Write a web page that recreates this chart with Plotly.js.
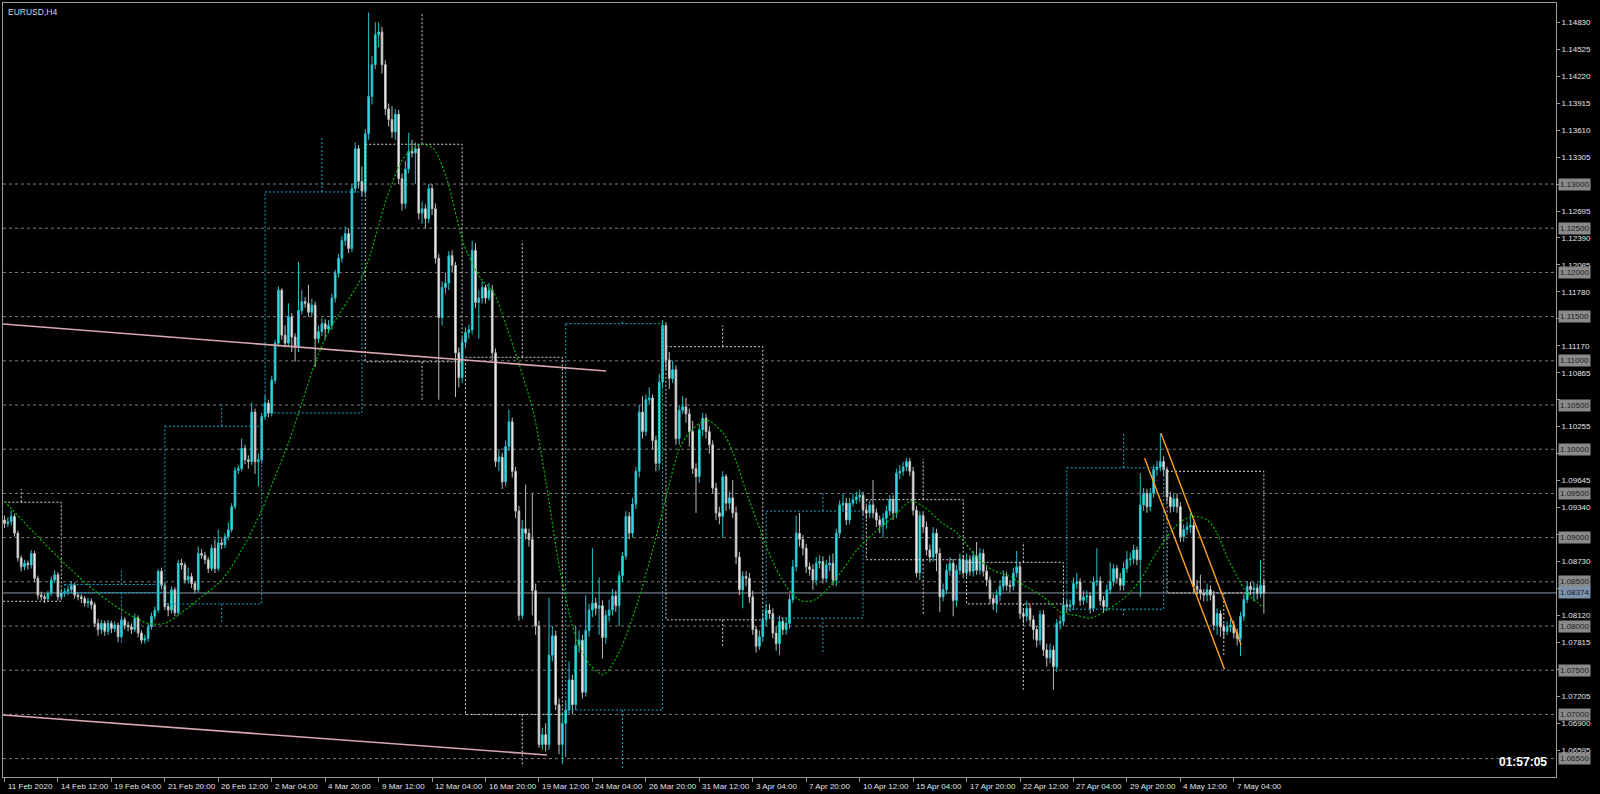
<!DOCTYPE html>
<html><head><meta charset="utf-8">
<script src="https://cdn.plot.ly/plotly-3.0.1.min.js"></script>
<style>html,body{margin:0;padding:0;background:#000;}#chart{width:1600px;height:794px;}</style>
</head><body><div id="chart"></div>
<script>
const symbolTitle = "EURUSD,H4";
const timerText = "01:57:05";
const firstOpen = 1.0920;
const currentPrice = 1.08374;

const closes = [
1.0916,1.0918,1.0924,1.0905,1.0877,1.0867,1.0871,1.0869,1.0882,1.0854,
1.0835,1.0833,1.0831,1.0837,1.0852,1.0858,1.0833,1.0837,1.0839,1.0841,
1.0846,1.0835,1.0833,1.0831,1.0826,1.0828,1.0824,1.0803,1.0796,1.0803,
1.0794,1.0803,1.0797,1.0801,1.0788,1.0807,1.0801,1.0799,1.0796,1.0809,
1.0792,1.0784,1.0786,1.0799,1.0811,1.0818,1.0862,1.0846,1.0822,1.0818,
1.0841,1.0815,1.0871,1.0869,1.0852,1.0856,1.0848,1.0841,1.0882,1.0880,
1.0875,1.0865,1.0888,1.0865,1.0894,1.0892,1.0901,1.0909,1.0935,1.0976,
1.0978,1.1001,1.0988,1.0986,1.1042,1.0986,1.0988,1.1037,1.1052,1.1041,
1.1078,1.1120,1.1180,1.1129,1.1120,1.1150,1.1127,1.1116,1.1157,1.1167,
1.1165,1.1155,1.1163,1.1125,1.1133,1.1142,1.1136,1.1140,1.1171,1.1199,
1.1216,1.1236,1.1244,1.1227,1.1295,1.1340,1.1303,1.1292,1.1357,1.1399,
1.1435,1.1469,1.1472,1.1435,1.1385,1.1373,1.1359,1.1379,1.1306,1.1278,
1.1317,1.1337,1.1335,1.1340,1.1267,1.1272,1.1261,1.1295,1.1272,1.1216,
1.1149,1.1183,1.1188,1.1219,1.1208,1.1109,1.1081,1.1121,1.1132,1.1135,
1.1225,1.1166,1.1171,1.1183,1.1171,1.1180,1.1109,1.0986,1.0991,1.0963,
1.1003,1.1031,1.0975,1.0930,1.0812,1.0910,1.0905,1.0898,1.0840,1.0800,
1.0666,1.0677,1.0666,1.0767,1.0789,1.0711,1.0666,1.0690,1.0705,1.0739,
1.0711,1.0778,1.0784,1.0725,1.0795,1.0818,1.0826,1.0820,1.0823,1.0787,
1.0812,1.0818,1.0834,1.0823,1.0857,1.0879,1.0924,1.0905,1.0938,1.0975,
1.1042,1.1020,1.1056,1.1058,1.1010,1.0984,1.1076,1.1140,1.1101,1.1080,
1.1090,1.1012,1.1044,1.1048,1.1040,1.1020,1.0978,1.0969,1.1022,1.1035,
1.1020,1.1005,1.0956,1.0928,1.0924,1.0969,1.0939,1.0945,1.0928,1.0878,
1.0841,1.0856,1.0854,1.0833,1.0796,1.0777,1.0788,1.0807,1.0818,1.0814,
1.0792,1.0780,1.0805,1.0796,1.0803,1.0830,1.0867,1.0905,1.0898,1.0888,
1.0867,1.0864,1.0852,1.0871,1.0873,1.0854,1.0869,1.0871,1.0852,1.0905,
1.0937,1.0939,1.0920,1.0939,1.0943,1.0946,1.0948,1.0931,1.0928,1.0937,
1.0928,1.0920,1.0914,1.0922,1.0930,1.0943,1.0928,1.0973,1.0975,1.0980,
1.0986,1.0975,1.0931,1.0860,1.0925,1.0912,1.0886,1.0878,1.0905,1.0882,
1.0833,1.0841,1.0863,1.0871,1.0829,1.0863,1.0875,1.0860,1.0875,1.0862,
1.0879,1.0863,1.0882,1.0862,1.0852,1.0831,1.0826,1.0835,1.0845,1.0856,
1.0846,1.0845,1.0860,1.0867,1.0814,1.0811,1.0820,1.0807,1.0796,1.0784,
1.0813,1.0773,1.0764,1.0773,1.0754,1.0803,1.0805,1.0824,1.0822,1.0824,
1.0848,1.0850,1.0829,1.0833,1.0834,1.0820,1.0850,1.0851,1.0829,1.0822,
1.0841,1.0850,1.0865,1.0854,1.0846,1.0865,1.0875,1.0876,1.0886,1.0875,
1.0937,1.0950,1.0935,1.0950,1.0977,1.0980,1.0986,1.0977,1.0946,1.0935,
1.0944,1.0935,1.0901,1.0909,1.0912,1.0914,1.0845,1.0841,1.0837,1.0835,
1.0841,1.0835,1.0801,1.0814,1.0799,1.0794,1.0799,1.0801,1.0792,1.0786,
1.0811,1.0830,1.0845,1.0841,1.0843,1.0837,1.0846,1.08374
];

const highs = [
1.0925,1.0923,1.0931,1.0927,1.0908,1.0880,1.0875,1.0874,1.0886,1.0885,
1.0857,1.0839,1.0836,1.0840,1.0856,1.0863,1.0861,1.0841,1.0843,1.0846,
1.0851,1.0849,1.0838,1.0836,1.0834,1.0832,1.0831,1.0827,1.0808,1.0807,
1.0806,1.0807,1.0806,1.0805,1.0804,1.0812,1.0810,1.0805,1.0803,1.0814,
1.0812,1.0795,1.0790,1.0803,1.0815,1.0822,1.0864,1.0866,1.0849,1.0826,
1.0845,1.0844,1.0875,1.0876,1.0872,1.0866,1.0860,1.0851,1.0890,1.0887,
1.0884,1.0878,1.0892,1.0898,1.0909,1.0899,1.0905,1.0917,1.0939,1.0980,
1.0982,1.1012,1.1005,1.0993,1.1053,1.1046,1.0995,1.1041,1.1061,1.1056,
1.1083,1.1124,1.1184,1.1182,1.1140,1.1165,1.1154,1.1131,1.1212,1.1180,
1.1172,1.1186,1.1170,1.1167,1.1140,1.1148,1.1147,1.1146,1.1176,1.1203,
1.1221,1.1241,1.1252,1.1250,1.1300,1.1347,1.1344,1.1320,1.1362,1.1494,
1.1445,1.1483,1.1483,1.1478,1.1440,1.1391,1.1388,1.1385,1.1384,1.1312,
1.1326,1.1358,1.1350,1.1347,1.1345,1.1280,1.1277,1.1300,1.1300,1.1278,
1.1221,1.1190,1.1200,1.1224,1.1225,1.1212,1.1115,1.1127,1.1138,1.1141,
1.1236,1.1233,1.1180,1.1190,1.1186,1.1188,1.1186,1.1114,1.1000,1.0996,
1.1010,1.1045,1.1036,1.0980,1.0936,1.0920,1.0960,1.0910,1.0950,1.0848,
1.0806,1.0685,1.0690,1.0832,1.0800,1.0795,1.0718,1.0700,1.0715,1.0760,
1.0745,1.0800,1.0795,1.0790,1.0835,1.0825,1.0888,1.0832,1.0855,1.0829,
1.0818,1.0830,1.0842,1.0840,1.0862,1.0884,1.0930,1.0929,1.0945,1.0980,
1.1050,1.1060,1.1062,1.1070,1.1062,1.1015,1.1085,1.1146,1.1144,1.1110,
1.1100,1.1095,1.1050,1.1060,1.1058,1.1046,1.1032,1.0984,1.1028,1.1041,
1.1040,1.1026,1.1010,1.0962,1.0935,1.0975,1.0972,1.0952,1.0965,1.0935,
1.0884,1.0862,1.0862,1.0860,1.0840,1.0800,1.0795,1.0815,1.0825,1.0825,
1.0820,1.0800,1.0812,1.0810,1.0810,1.0836,1.0875,1.0925,1.0928,1.0903,
1.0893,1.0872,1.0870,1.0878,1.0880,1.0879,1.0875,1.0880,1.0882,1.0910,
1.0942,1.0950,1.0945,1.0945,1.0950,1.0952,1.0954,1.0952,1.0936,1.0942,
1.0965,1.0933,1.0925,1.0928,1.0936,1.0948,1.0948,1.0978,1.0982,1.0986,
1.0990,1.0990,1.0980,1.0936,1.0930,1.0930,1.0918,1.0892,1.0912,1.0910,
1.0888,1.0848,1.0870,1.0878,1.0876,1.0869,1.0882,1.0880,1.0882,1.0880,
1.0885,1.0895,1.0888,1.0887,1.0868,1.0856,1.0836,1.0841,1.0852,1.0863,
1.0861,1.0852,1.0866,1.0885,1.0872,1.0820,1.0828,1.0825,1.0812,1.0800,
1.0818,1.0818,1.0780,1.0780,1.0778,1.0808,1.0812,1.0832,1.0830,1.0830,
1.0855,1.0860,1.0854,1.0840,1.0840,1.0838,1.0856,1.0888,1.0856,1.0834,
1.0847,1.0872,1.0870,1.0869,1.0860,1.0872,1.0885,1.0883,1.0892,1.0890,
1.0973,1.0956,1.0955,1.0956,1.0982,1.0987,1.1018,1.0992,1.0980,1.0952,
1.0950,1.0950,1.0940,1.0915,1.0918,1.0928,1.0918,1.0852,1.0858,1.0842,
1.0848,1.0846,1.0840,1.0820,1.0818,1.0803,1.0805,1.0808,1.0806,1.0797,
1.0816,1.0836,1.0851,1.0850,1.0850,1.0848,1.0875,1.0852
];

const lows = [
1.0911,1.0912,1.0914,1.0901,1.0873,1.0862,1.0863,1.0864,1.0865,1.0850,
1.0830,1.0829,1.0826,1.0828,1.0834,1.0849,1.0829,1.0830,1.0833,1.0835,
1.0837,1.0831,1.0829,1.0826,1.0822,1.0821,1.0819,1.0799,1.0789,1.0791,
1.0789,1.0790,1.0792,1.0793,1.0782,1.0785,1.0796,1.0794,1.0791,1.0793,
1.0787,1.0780,1.0780,1.0782,1.0796,1.0807,1.0815,1.0842,1.0818,1.0811,
1.0814,1.0811,1.0812,1.0864,1.0848,1.0848,1.0843,1.0837,1.0838,1.0876,
1.0870,1.0860,1.0862,1.0860,1.0862,1.0887,1.0888,1.0897,1.0906,1.0932,
1.0972,1.0975,1.0983,1.0978,1.0982,1.0972,1.0958,1.0984,1.1033,1.1036,
1.1037,1.1074,1.1116,1.1124,1.1115,1.1116,1.1110,1.1099,1.1110,1.1152,
1.1160,1.1150,1.1150,1.1093,1.1120,1.1128,1.1125,1.1131,1.1135,1.1166,
1.1194,1.1211,1.1230,1.1222,1.1223,1.1290,1.1295,1.1286,1.1288,1.1350,
1.1390,1.1430,1.1455,1.1425,1.1378,1.1365,1.1352,1.1350,1.1300,1.1270,
1.1272,1.1312,1.1330,1.1300,1.1260,1.1255,1.1250,1.1256,1.1265,1.1210,
1.1056,1.1140,1.1176,1.1180,1.1200,1.1059,1.1070,1.1075,1.1114,1.1125,
1.1130,1.1160,1.1125,1.1165,1.1165,1.1168,1.1100,1.0980,1.0975,1.0955,
1.0958,1.0998,1.0968,1.0922,1.0806,1.0808,1.0898,1.0890,1.0812,1.0790,
1.0662,1.0660,1.0658,1.0660,1.0760,1.0705,1.0655,1.0644,1.0652,1.0700,
1.0700,1.0705,1.0770,1.0718,1.0720,1.0788,1.0810,1.0812,1.0790,1.0763,
1.0780,1.0805,1.0812,1.0816,1.0800,1.0850,1.0875,1.0898,1.0900,1.0932,
1.0968,1.1012,1.1015,1.1050,1.1000,1.0975,1.0976,1.1070,1.1090,1.1068,
1.1075,1.1005,1.1005,1.1040,1.1030,1.1003,1.0972,1.0928,1.0962,1.1015,
1.1012,1.0995,1.0950,1.0920,1.0915,1.0900,1.0930,1.0932,1.0922,1.0870,
1.0835,1.0820,1.0845,1.0826,1.0790,1.0770,1.0773,1.0782,1.0800,1.0808,
1.0786,1.0772,1.0767,1.0790,1.0790,1.0797,1.0826,1.0862,1.0890,1.0880,
1.0860,1.0857,1.0841,1.0846,1.0865,1.0848,1.0850,1.0862,1.0846,1.0845,
1.0900,1.0930,1.0914,1.0915,1.0935,1.0938,1.0940,1.0925,1.0921,1.0922,
1.0922,1.0912,1.0905,1.0900,1.0910,1.0925,1.0920,1.0922,1.0966,1.0970,
1.0975,1.0970,1.0925,1.0855,1.0852,1.0905,1.0880,1.0872,1.0873,1.0862,
1.0816,1.0828,1.0836,1.0857,1.0811,1.0822,1.0858,1.0854,1.0855,1.0857,
1.0856,1.0858,1.0858,1.0856,1.0845,1.0825,1.0818,1.0815,1.0828,1.0840,
1.0840,1.0838,1.0840,1.0855,1.0808,1.0803,1.0805,1.0800,1.0785,1.0776,
1.0778,1.0766,1.0754,1.0758,1.0728,1.0748,1.0796,1.0800,1.0815,1.0816,
1.0818,1.0842,1.0823,1.0824,1.0826,1.0814,1.0816,1.0845,1.0823,1.0815,
1.0817,1.0836,1.0845,1.0848,1.0840,1.0840,1.0860,1.0868,1.0870,1.0869,
1.0833,1.0930,1.0928,1.0930,1.0945,1.0970,1.0975,1.0970,1.0940,1.0928,
1.0929,1.0928,1.0895,1.0895,1.0903,1.0905,1.0838,1.0835,1.0830,1.0828,
1.0828,1.0829,1.0795,1.0790,1.0788,1.0786,1.0790,1.0793,1.0786,1.0778,
1.0766,1.0806,1.0826,1.0835,1.0828,1.0830,1.0832,1.0814
];

// X axis labels (every 16 bars)
const tickBars = [0,16,32,48,64,80,96,112,128,144,160,176,192,208,224,240,256,272,288,304,320,336,352,368];
const tickLabels = ["11 Feb 2020","14 Feb 12:00","19 Feb 04:00","21 Feb 20:00","26 Feb 12:00","2 Mar 04:00","4 Mar 20:00","9 Mar 12:00","12 Mar 04:00","16 Mar 20:00","19 Mar 12:00","24 Mar 04:00","26 Mar 20:00","31 Mar 12:00","3 Apr 04:00","7 Apr 20:00","10 Apr 12:00","15 Apr 04:00","17 Apr 20:00","22 Apr 12:00","27 Apr 04:00","29 Apr 20:00","4 May 12:00","7 May 04:00"];

// Price scale labels
const yTicks = [1.14830,1.14525,1.14220,1.13915,1.13610,1.13305,1.13000,1.12695,1.12390,1.12085,1.11780,1.11475,1.11170,1.10865,1.10560,1.10255,1.09950,1.09645,1.09340,1.09035,1.08730,1.08425,1.08120,1.07815,1.07510,1.07205,1.06900,1.06595];

// Horizontal level lines
const levels = [1.130,1.125,1.120,1.115,1.110,1.105,1.100,1.095,1.090,1.085,1.080,1.075,1.070,1.065];

// Weekly (higher-timeframe) candles
const weekStart = [-12,18,48,78,108,138,168,198,228,258,288,318,348];
const weekOpen  = [1.0940,1.0838,1.0825,1.1041,1.1345,1.1104,1.0705,1.1116,1.0809,1.0943,1.0872,1.0819,1.0975];
const weekHigh  = [1.0955,1.0863,1.1052,1.1354,1.1494,1.1236,1.1146,1.1140,1.0952,1.0989,1.0895,1.1018,1.0975];
const weekLow   = [1.0827,1.0780,1.0805,1.1041,1.1056,1.0641,1.0637,1.0777,1.0769,1.0812,1.0728,1.0812,1.0767];
const weekClose = [1.0828,1.0847,1.1026,1.1291,1.1099,1.0700,1.1142,1.0807,1.0930,1.0875,1.0825,1.0979,1.08374];

// Moving average (green dotted) read points
const maBar = [0,9,19,28,36,43,48,53,59,65,71,77,81,85,89,93,97,107.5,114.4,119.4,124.4,128.4,132.4,137.4,142.4,146.4,152.4,158.3,162.3,166.3,171.3,175.3,179.3,184.3,189.3,194.3,198.3,202.3,206.3,210.2,215.2,218.2,222.2,226.2,230.2,234.2,238.2,242.2,246.2,250.2,255.2,260.2,266.2,271.2,275.2,280.2,285.2,291,296,301,306,311,316,321,325,330,335,340,344,348,352,356,360,363,366,369,372,376.5];
const maValue = [1.0941,1.0905,1.0867,1.0837,1.0816,1.0803,1.0803,1.0815,1.0833,1.0852,1.0886,1.0931,1.0969,1.1007,1.1052,1.1098,1.1133,1.1199,1.1284,1.1329,1.1345,1.1340,1.1306,1.1233,1.1194,1.1177,1.1115,1.1042,1.0958,1.0863,1.0784,1.0756,1.0745,1.0773,1.0824,1.0890,1.0950,1.1003,1.1024,1.1033,1.1018,1.0995,1.0950,1.0909,1.0871,1.0844,1.0829,1.0829,1.0841,1.0860,1.0886,1.0905,1.0924,1.0941,1.0935,1.0918,1.0905,1.0878,1.0863,1.0856,1.0844,1.0833,1.0816,1.0812,1.0809,1.0818,1.0831,1.0852,1.0878,1.0901,1.0918,1.0924,1.0920,1.0905,1.0878,1.0856,1.0837,1.0822];

// Trend lines
const pinkUpperBars = [-0.45, 180.1];
const pinkUpperPrices = [1.11416, 1.10885];
const pinkLowerBars = [-0.45, 162.4];
const pinkLowerPrices = [1.06993, 1.06541];
const orangeABars = [346.2, 370.2];
const orangeAPrices = [1.10180, 1.07785];
const orangeBBars = [341.3, 365.2];
const orangeBPrices = [1.09897, 1.07510];

// ---------- build ----------
const FONT = "Liberation Sans, Arial, sans-serif";
const bars = closes.map((_, i) => i);
const opens = closes.map((c, i) => i === 0 ? firstOpen : closes[i - 1]);

const traces = [];
traces.push({
  type: 'candlestick', x: bars, open: opens, high: highs, low: lows, close: closes,
  increasing: {line: {color: '#27c2cc', width: 1}, fillcolor: '#3fe4ec'},
  decreasing: {line: {color: '#bcbcbc', width: 1}, fillcolor: '#ffffff'},
  whiskerwidth: 0, hoverinfo: 'skip', showlegend: false
});

function weekTrace(bull) {
  const xs = [], ys = [];
  const last = closes.length - 1;
  weekStart.forEach((s, w) => {
    const isBull = weekClose[w] >= weekOpen[w];
    if (isBull !== bull) return;
    const e = w < weekStart.length - 1 ? weekStart[w + 1] - 1 : last;
    const top = Math.max(weekOpen[w], weekClose[w]);
    const bot = Math.min(weekOpen[w], weekClose[w]);
    xs.push(s, e, e, s, s, null); ys.push(top, top, bot, bot, top, null);
    const wx = s + 17;
    if (weekHigh[w] > top) { xs.push(wx, wx, null); ys.push(top, weekHigh[w], null); }
    if (weekLow[w] < bot) { xs.push(wx, wx, null); ys.push(bot, weekLow[w], null); }
  });
  return {type: 'scatter', mode: 'lines', x: xs, y: ys, connectgaps: false,
    line: {color: bull ? '#12a9cf' : '#d4d4d4', width: 1, dash: '2px,2px'},
    hoverinfo: 'skip', showlegend: false};
}
traces.push(weekTrace(true));
traces.push(weekTrace(false));

traces.push({type: 'scatter', mode: 'lines', x: maBar, y: maValue,
  line: {color: '#00bb00', width: 1.2, dash: '2px,2px', shape: 'spline', smoothing: 0.8},
  hoverinfo: 'skip', showlegend: false});

[[pinkUpperBars, pinkUpperPrices], [pinkLowerBars, pinkLowerPrices]].forEach(([xs, ys]) => {
  traces.push({type: 'scatter', mode: 'lines', x: xs, y: ys,
    line: {color: '#d9a7ad', width: 1.6}, hoverinfo: 'skip', showlegend: false});
});
[[orangeABars, orangeAPrices], [orangeBBars, orangeBPrices]].forEach(([xs, ys]) => {
  traces.push({type: 'scatter', mode: 'lines', x: xs, y: ys,
    line: {color: '#ffa21a', width: 1.4}, hoverinfo: 'skip', showlegend: false});
});

const shapes = levels.map(v => ({type: 'line', xref: 'paper', x0: 0, x1: 1, yref: 'y', y0: v, y1: v,
  line: {color: '#7c7c7c', width: 1, dash: '3px,3px'}, layer: 'below'}));
shapes.push({type: 'line', xref: 'paper', x0: 0, x1: 1, yref: 'y', y0: currentPrice, y1: currentPrice,
  line: {color: '#8a98a8', width: 1}, layer: 'below'});

// scale labels hidden behind the boxed level labels are left blank
const boxedValues = levels.concat([currentPrice]);
const yTickText = yTicks.map(v => boxedValues.some(b => Math.abs(b - v) < 0.0007) && !levels.includes(v) ? '' : v.toFixed(5));

const annotations = [];
levels.forEach(v => annotations.push({xref: 'paper', x: 1, xanchor: 'left', xshift: 2, yref: 'y', y: v, yanchor: 'middle',
  text: v.toFixed(5), showarrow: false, bgcolor: '#8a8a8a', borderpad: 1,
  font: {family: FONT, size: 8, color: '#1c1c1c'}}));
annotations.push({xref: 'paper', x: 1, xanchor: 'left', xshift: 2, yref: 'y', y: currentPrice, yanchor: 'middle',
  text: currentPrice.toFixed(5), showarrow: false, bgcolor: '#7c93ad', borderpad: 1,
  font: {family: FONT, size: 8, color: '#1c1c1c'}});
tickBars.forEach((b, k) => annotations.push({xref: 'x', x: b, xanchor: 'left', xshift: 1, yref: 'paper', y: 0, yanchor: 'top', yshift: -3,
  text: tickLabels[k], showarrow: false, font: {family: FONT, size: 8, color: '#e4e4e4'}}));
annotations.push({xref: 'paper', x: 0, xanchor: 'left', xshift: 3, yref: 'paper', y: 1, yanchor: 'top', yshift: -2,
  text: symbolTitle, showarrow: false, font: {family: FONT, size: 8.5, color: '#d8d8d8'}});
annotations.push({xref: 'paper', x: 1, xanchor: 'right', xshift: -7, yref: 'paper', y: 0, yanchor: 'bottom', yshift: 6,
  text: '<b>' + timerText + '</b>', showarrow: false, font: {family: FONT, size: 12, color: '#ffffff'}});

const layout = {
  width: 1600, height: 794,
  margin: {l: 3, r: 44, t: 3, b: 17, pad: 0},
  paper_bgcolor: '#000000', plot_bgcolor: '#000000',
  showlegend: false,
  xaxis: {range: [-0.449, 464.45], showgrid: false, zeroline: false, tickvals: tickBars, ticks: 'outside',
    ticklen: 4, tickcolor: '#9c9c9c', showticklabels: false, showline: true, mirror: true,
    linecolor: '#9c9c9c', linewidth: 1, rangeslider: {visible: false}, fixedrange: true},
  yaxis: {side: 'right', range: [1.06292, 1.15048], showgrid: false, zeroline: false, tickvals: yTicks,
    ticktext: yTickText, ticks: 'outside', ticklen: 3, tickcolor: '#9c9c9c',
    tickfont: {family: FONT, size: 8, color: '#e4e4e4'}, showline: true, mirror: true,
    linecolor: '#9c9c9c', linewidth: 1, fixedrange: true},
  shapes: shapes, annotations: annotations
};

Plotly.newPlot('chart', traces, layout, {staticPlot: true, displayModeBar: false});
</script>
</body></html>
